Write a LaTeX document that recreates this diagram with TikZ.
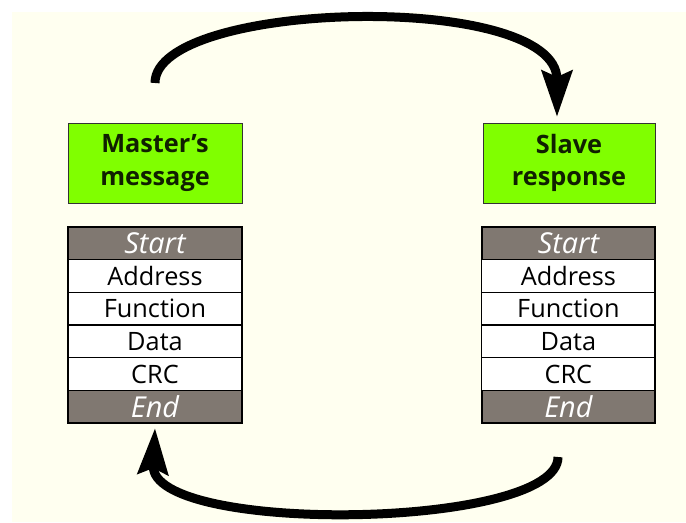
\documentclass[tikz,border=0pt]{standalone}
\usepackage{fontspec}
\setmainfont{Open Sans}
\usetikzlibrary{arrows.meta}
\definecolor{cream}{RGB}{255,255,240}
\definecolor{lime}{RGB}{128,255,0}
\definecolor{fieldgray}{RGB}{128,120,113}
\definecolor{headtext}{RGB}{16,32,0}
\begin{document}
\begin{tikzpicture}[
       header/.style={
         rectangle,
         draw=black!80,
         fill=lime,
         line width=0.6pt,
         minimum width=4.35cm,
         minimum height=2cm,
         align=center,
         text=headtext,
         font=\bfseries\fontsize{18}{22.8}\selectfont
       },
       field/.style={
         rectangle,
         draw=black,
         fill=white,
         line width=0.8pt,
         inner sep=0pt,
         minimum width=4.35cm,
         minimum height=0.817cm,
         font=\fontsize{18}{20}\selectfont
       },
       frame/.style={
         field,
         fill=fieldgray,
         text=white,
         line width=1.1pt,
         font=\itshape\fontsize{20.5}{22}\selectfont
       },
       roundtrip/.style={
         line width=0.225cm,
         -{Stealth[length=1.15cm,width=0.75cm,inset=0.15cm]}
       }
     ]

       \useasboundingbox (0,0) rectangle (17.15,-13.05);
       \fill[cream] (0.3,-0.3) rectangle (17.15,-13.05);

       \node (master) at (3.875,-4.075) [header]{Master's\\message};
       \node (slave) at (14.225,-4.075) [header,minimum width=4.3cm]{Slave\\response};

       \node (mstart) at (3.875,-6.083) [frame]{Start};
       \node (maddr) at (3.875,-6.9) [field]{Address};
       \node (mfunc) at (3.875,-7.717) [field]{Function};
       \node (mdata) at (3.875,-8.533) [field]{Data};
       \node (mcrc) at (3.875,-9.35) [field]{CRC};
       \node (mend) at (3.875,-10.167) [frame]{End};

       \node (sstart) at (14.21,-6.083) [frame,minimum width=4.33cm]{Start};
       \node (saddr) at (14.21,-6.9) [field,minimum width=4.33cm]{Address};
       \node (sfunc) at (14.21,-7.717) [field,minimum width=4.33cm]{Function};
       \node (sdata) at (14.21,-8.533) [field,minimum width=4.33cm]{Data};
       \node (scrc) at (14.21,-9.35) [field,minimum width=4.33cm]{CRC};
       \node (send) at (14.21,-10.167) [frame,minimum width=4.33cm]{End};

       \coordinate (mtail) at (3.875,-2.075);
       \coordinate (stip) at (13.925,-2.925);
       \coordinate (stail) at (13.95,-11.425);
       \coordinate (mtip) at (3.875,-10.7);

       \draw[roundtrip] (mtail) .. controls (3.875,0) and (13.925,0.25) .. (stip);
       \draw[roundtrip] (stail) .. controls (13.95,-13.25) and (3.75,-13.375) .. (mtip);

\end{tikzpicture}
\end{document}
